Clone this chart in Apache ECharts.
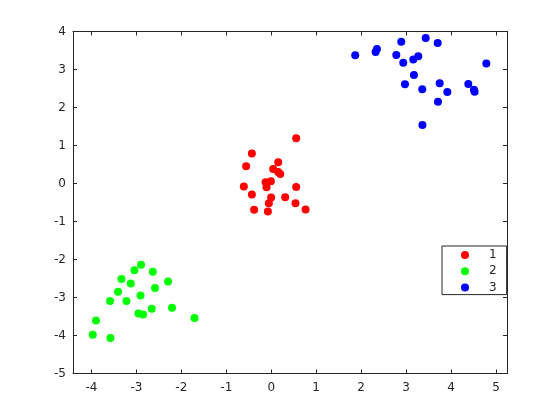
<!DOCTYPE html>
<html><head><meta charset="utf-8">
<script src="https://cdn.jsdelivr.net/npm/echarts@6/dist/echarts.min.js"></script>
<style>html,body{margin:0;padding:0;background:#fff}#c{width:560px;height:420px}</style>
</head><body><div id="c"></div>
<script>
var seriesNames = ['1', '2', '3'];
var cluster1 = [[0.555,1.19],[-0.431,0.787],[-0.558,0.455],[0.155,0.56],[0.043,0.384],[0.155,0.30],[0.2,0.253],[-0.61,-0.081],[-0.431,-0.29],[-0.126,0.034],[-0.008,0.06],[-0.104,-0.097],[0.555,-0.089],[-0.002,-0.37],[0.31,-0.36],[-0.053,-0.518],[0.54,-0.518],[-0.38,-0.694],[-0.075,-0.738],[0.764,-0.686]];
var cluster2 = [[-2.896,-2.14],[-3.043,-2.28],[-2.635,-2.324],[-3.332,-2.516],[-3.125,-2.632],[-2.295,-2.579],[-3.408,-2.85],[-2.909,-2.947],[-2.584,-2.753],[-3.586,-3.095],[-3.221,-3.095],[-2.954,-3.42],[-2.851,-3.447],[-2.658,-3.297],[-2.206,-3.27],[-1.707,-3.54],[-3.898,-3.604],[-3.971,-3.98],[-3.577,-4.068]];
var cluster3 = [[1.868,3.374],[2.351,3.54],[2.322,3.46],[2.893,3.73],[2.782,3.382],[2.937,3.18],[3.16,3.26],[3.271,3.347],[3.436,3.83],[3.703,3.70],[4.785,3.16],[3.175,2.856],[2.975,2.61],[3.36,2.48],[3.747,2.64],[3.917,2.41],[4.384,2.62],[4.51,2.47],[4.525,2.415],[3.709,2.154],[3.364,1.54]];
var xTicks = [-4,-3,-2,-1,0,1,2,3,4,5];
var yTicks = [-5,-4,-3,-2,-1,0,1,2,3,4];
var colors = ['#ff0000', '#00ff00', '#0000ff'];

var axisColor = '#262626';
var font = 'DejaVu Sans';
function xAx(pos, show) {
  return {
    type: 'value', position: pos, min: -4.41, max: 5.245,
    axisLine: {show: true, onZero: false, lineStyle: {color: axisColor, width: 1}},
    axisTick: {show: true, inside: true, length: 4, customValues: xTicks, lineStyle: {color: axisColor}},
    axisLabel: {show: show, customValues: xTicks, color: axisColor, fontFamily: font, fontSize: 12, margin: 8},
    splitLine: {show: false}
  };
}
function yAx(pos, show) {
  return {
    type: 'value', position: pos, min: -5, max: 4, interval: 1,
    axisLine: {show: true, onZero: false, lineStyle: {color: axisColor, width: 1}},
    axisTick: {show: true, inside: true, length: 4, customValues: yTicks, lineStyle: {color: axisColor}},
    axisLabel: {show: show, customValues: yTicks, color: axisColor, fontFamily: font, fontSize: 12, margin: 7},
    splitLine: {show: false}
  };
}
var chart = echarts.init(document.getElementById('c'), null, {renderer: 'canvas'});
var data = [cluster1, cluster2, cluster3];
chart.setOption({
  animation: false,
  backgroundColor: '#ffffff',
  grid: {left: 73, top: 31.5, width: 434, height: 342, containLabel: false},
  xAxis: [xAx('bottom', true), xAx('top', false)],
  yAxis: [yAx('left', true), yAx('right', false)],
  legend: {
    orient: 'vertical', left: 442, top: 246,
    padding: [3, 10, 1, 19],
    itemWidth: 8, itemHeight: 8, itemGap: 4.3,
    borderColor: axisColor, borderWidth: 1, backgroundColor: '#fff',
    icon: 'circle',
    textStyle: {color: axisColor, fontFamily: font, fontSize: 12, lineHeight: 12, padding: [0, 0, 0, 15]},
    data: seriesNames
  },
  series: seriesNames.map(function (n, i) {
    return {
      name: n, type: 'scatter', xAxisIndex: 0, yAxisIndex: 0,
      symbol: 'circle', symbolSize: 8,
      itemStyle: {color: colors[i], opacity: 1},
      data: data[i]
    };
  })
});
</script></body></html>
